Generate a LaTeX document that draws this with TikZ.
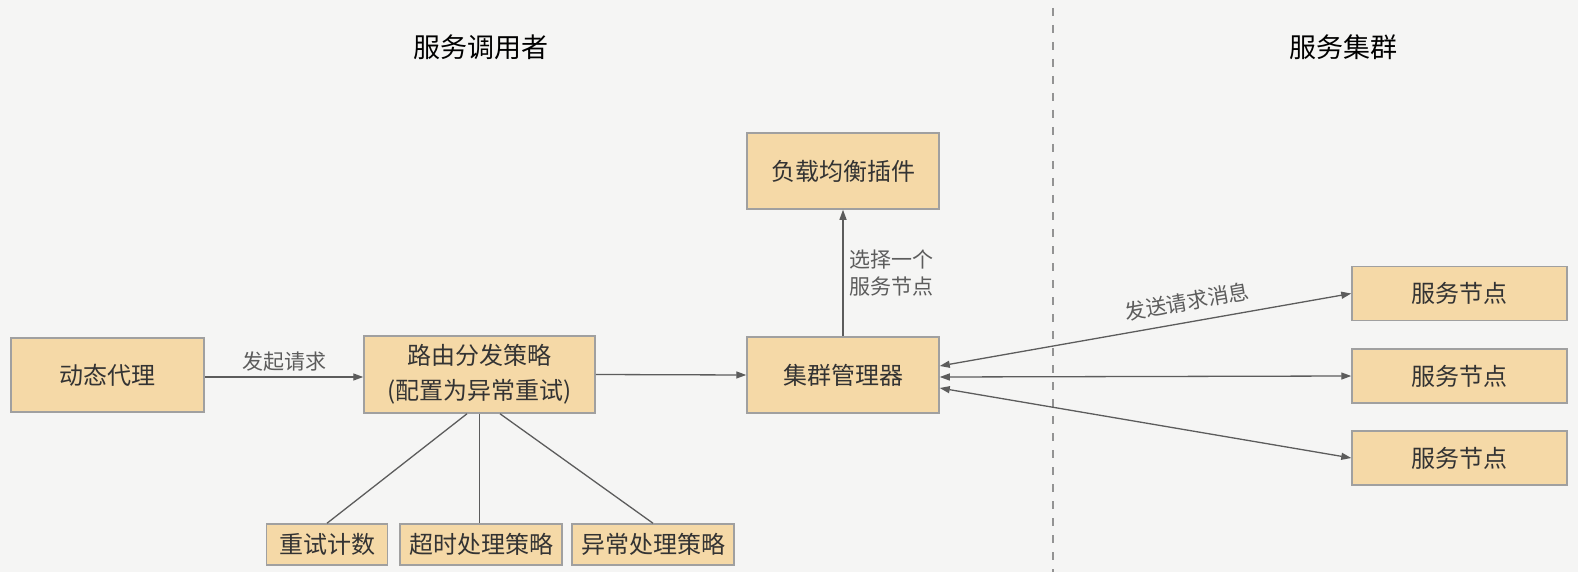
\documentclass[tikz,border=0pt]{standalone}
\usepackage{fontspec}
\setmainfont{Noto Sans CJK SC}
\usepackage{xcolor}
\usetikzlibrary{arrows.meta, positioning}

\definecolor{bgcol}{HTML}{F5F5F4}
\definecolor{boxfill}{HTML}{F5D9A7}
\definecolor{boxline}{HTML}{A0A0A0}
\definecolor{linecol}{HTML}{5C5C5C}
\definecolor{txtcol}{HTML}{333333}

\begin{document}
\begin{tikzpicture}[
    x=1pt, y=-1pt,
    % Styles
    box/.style={rectangle, draw=boxline, fill=boxfill, line width=1.5pt, align=center, inner sep=0pt, text=txtcol, font=\fontsize{24}{35}\selectfont},
    smallbox/.style={box, minimum width=162pt, minimum height=41pt},
    svcbox/.style={box, minimum width=215pt, minimum height=54pt},
    title/.style={text=black, font=\fontsize{27}{32}\selectfont},
    lbl/.style={text=linecol, font=\fontsize{21}{27}\selectfont, inner sep=2pt},
    link/.style={draw=linecol, line width=1.3pt},
    arrow/.style={link, -{Triangle[length=10pt,width=7pt]}},
    dblarrow/.style={link, {Triangle[length=10pt,width=7pt]}-{Triangle[length=10pt,width=7pt]}}
]

    % --- Canvas ---
    \fill[bgcol] (0,0) rectangle (1578,572);
    \useasboundingbox (0,0) rectangle (1578,572);

    % --- Titles and separator ---
    \node[title] (caller) at (481, 47) {服务调用者};
    \node[title] (cluster-title) at (1343, 47) {服务集群};
    \coordinate (sep-top) at (1053, 8);
    \coordinate (sep-bot) at (1053, 572);
    \draw[draw=gray!85, line width=1.5pt, dash pattern=on 8pt off 9pt] (sep-top) -- (sep-bot);

    % --- Caller side ---
    \node[box, minimum width=193pt, minimum height=74pt] (proxy) at (107.5, 375) {动态代理};
    \node[box, minimum width=231pt, minimum height=77pt] (router) at (479.5, 374.5) {路由分发策略\\(配置为异常重试)};

    % Router sub-strategies
    \node[smallbox, minimum width=121pt] (retry) at (327, 544.5) {重试计数};
    \node[smallbox] (timeout) at (481, 544.5) {超时处理策略};
    \node[smallbox] (except) at (653, 544.5) {异常处理策略};

    % Load balancing and cluster manager
    \node[box, minimum width=192pt, minimum height=76pt] (lb) at (843, 171) {负载均衡插件};
    \node[box, minimum width=192pt, minimum height=76pt] (manager) at (843, 375) {集群管理器};

    % --- Cluster side ---
    \node[svcbox] (svc1) at (1459.5, 293.5) {服务节点};
    \node[svcbox] (svc2) at (1459.5, 376) {服务节点};
    \node[svcbox] (svc3) at (1459.5, 458) {服务节点};

    % --- Connections ---
    \draw[arrow] (proxy.east |- 0,377) -- node[lbl, above=3pt] (send-lbl) {发起请求} (router.west |- 0,377);
    \draw[arrow] (router.east) -- (manager.west);

    \draw[link] ([xshift=-12.5pt]router.south) -- (retry.north);
    \draw[link] (router.south) -- (timeout.north -| router.south);
    \draw[link] ([xshift=20.5pt]router.south) -- (except.north);

    \draw[arrow] (manager.north) -- node[lbl, right=4pt, align=left] (pick-lbl) {选择一个\\服务节点} (lb.south);

    \draw[dblarrow] ([yshift=9pt]manager.east) -- node[lbl, pos=0.61, sloped, above=8pt] (msg-lbl) {发送请求消息} (svc1.west);
    \draw[dblarrow] ([yshift=-2pt]manager.east) -- (svc2.west);
    \draw[dblarrow] ([yshift=-13pt]manager.east) -- (svc3.west);

\end{tikzpicture}
\end{document}
